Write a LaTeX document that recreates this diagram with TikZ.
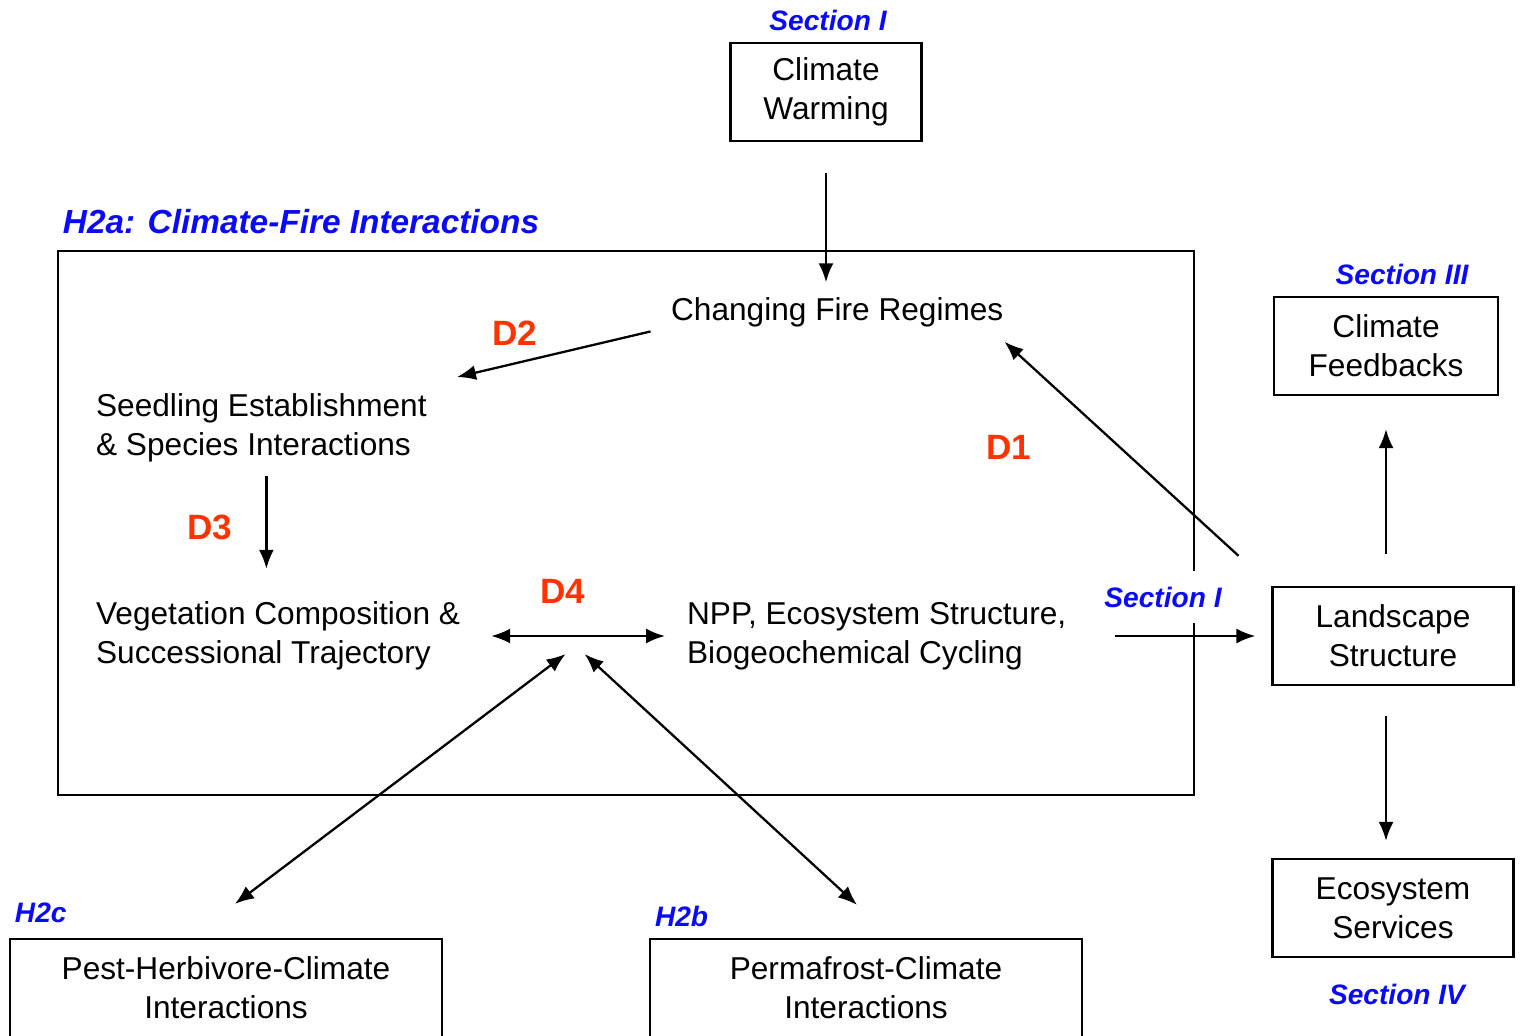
\documentclass[tikz,border=0pt]{standalone}
\usepackage{fontspec}
\setmainfont{Liberation Sans}
\usetikzlibrary{positioning,arrows.meta,calc}
\definecolor{secblue}{RGB}{10,10,250}
\definecolor{dred}{RGB}{255,51,0}

\begin{document}
\begin{tikzpicture}[x=0.02cm,y=-0.02cm,line width=1.3pt,font=\fontsize{18}{22}\selectfont]
  \tikzstyle{box}=[draw,minimum width=4.82cm,minimum height=1.96cm,align=center]
  \tikzstyle{txt}=[align=left,inner sep=0pt,anchor=west]
  \tikzstyle{sect}=[text=secblue,font=\fontsize{16}{18}\selectfont\bfseries\itshape]
  \tikzstyle{dlab}=[text=dred,font=\fontsize{20}{22}\selectfont\bfseries]
  \tikzstyle{arr}=[-{Latex[length=0.38cm,width=0.3cm]}]
  \tikzstyle{darr}=[{Latex[length=0.38cm,width=0.3cm]}-{Latex[length=0.38cm,width=0.3cm]}]
  \useasboundingbox (0,0) rectangle (1521,1035);
  \clip (0,0) rectangle (1521,1035);
  % boxes
  \node[box,minimum width=3.82cm] (cw) at (826,92) {Climate\\Warming};
  \node[box,minimum width=4.48cm] (fb) at (1386,346) {Climate\\Feedbacks};
  \node[box] (land) at (1393,636) {Landscape\\Structure};
  \node[box] (es) at (1393,908) {Ecosystem\\Services};
  \node[box,minimum width=8.64cm] (pest) at (226,988) {Pest-Herbivore-Climate\\Interactions};
  \node[box,minimum width=8.64cm] (perm) at (866,988) {Permafrost-Climate\\Interactions};
  \node[draw,inner sep=0pt,minimum width=22.72cm,minimum height=10.88cm] (frame) at (626,523) {};
  % texts inside the frame
  \node[txt,outer ysep=0.3cm] (fire) at (670,312) {Changing Fire Regimes};
  \node[txt,outer ysep=0.2cm] (seed) at (95,428) {Seedling Establishment\\\& Species Interactions};
  \node[txt] (veg) at (95,636) {Vegetation Composition \&\\Successional Trajectory};
  \node[txt] (npp) at (686,636) {NPP, Ecosystem Structure,\\Biogeochemical Cycling};
  % labels
  \node[sect] (sec1) at (828,20) {Section I};
  \node[sect,anchor=west,font=\fontsize{19}{22}\selectfont\bfseries\itshape] (h2a) at (56,222) {H2a: Climate-Fire Interactions};
  \node[sect] (sec3) at (1402,274) {Section III};
  \node[sect,fill=white,minimum height=1.04cm] (sec1b) at (1163,597) {Section I};
  \node[sect] (sec4) at (1397,994) {Section IV};
  \node[sect,anchor=west] (h2c) at (8,913) {H2c};
  \node[sect,anchor=west] (h2b) at (648,916) {H2b};
  \node[dlab] (d1) at (1009,447) {D1};
  \node[dlab] (d2) at (515,333) {D2};
  \node[dlab] (d3) at (210,527) {D3};
  \node[dlab] (d4) at (563,591) {D4};
  % arrows
  \draw[arr,shorten <=0.62cm] (cw.south) -- (cw.south |- fire.north);
  \draw[arr,shorten <=0.4cm,shorten >=0.6cm] ($(fire.west)!0.5!(fire.south west)$) -- (seed.north east);
  \draw[arr,shorten <=0.89cm] (land.north west) -- (fire.south east);
  \draw[arr,shorten <=0.08cm,shorten >=0.64cm] ([xshift=0.1cm]seed.south) -- ([xshift=0.1cm]seed.south |- veg.north);
  \draw[darr,shorten <=0.6cm,shorten >=0.42cm] (veg.east) -- (npp.west) coordinate[pos=0.5] (d4mid);
  \coordinate (hubl) at ($(d4mid)+(-8,18)$);
  \coordinate (hubr) at ($(d4mid)+(11,18)$);
  \coordinate (pesttop) at ($(pest.north)+(9,-34)$);
  \coordinate (permtop) at ($(perm.north)+(-9,-33)$);
  \draw[darr] (pesttop) -- (hubl);
  \draw[darr] (permtop) -- (hubr);
  \draw[arr,shorten <=0.95cm,shorten >=0.32cm] (npp.east |- land.west) -- (land.west);
  \draw[arr,shorten <=0.64cm,shorten >=0.66cm] (fb |- land.north) -- (fb.south);
  \draw[arr,shorten <=0.6cm,shorten >=0.34cm] (fb |- land.south) -- (fb |- es.north);
\end{tikzpicture}
\end{document}
